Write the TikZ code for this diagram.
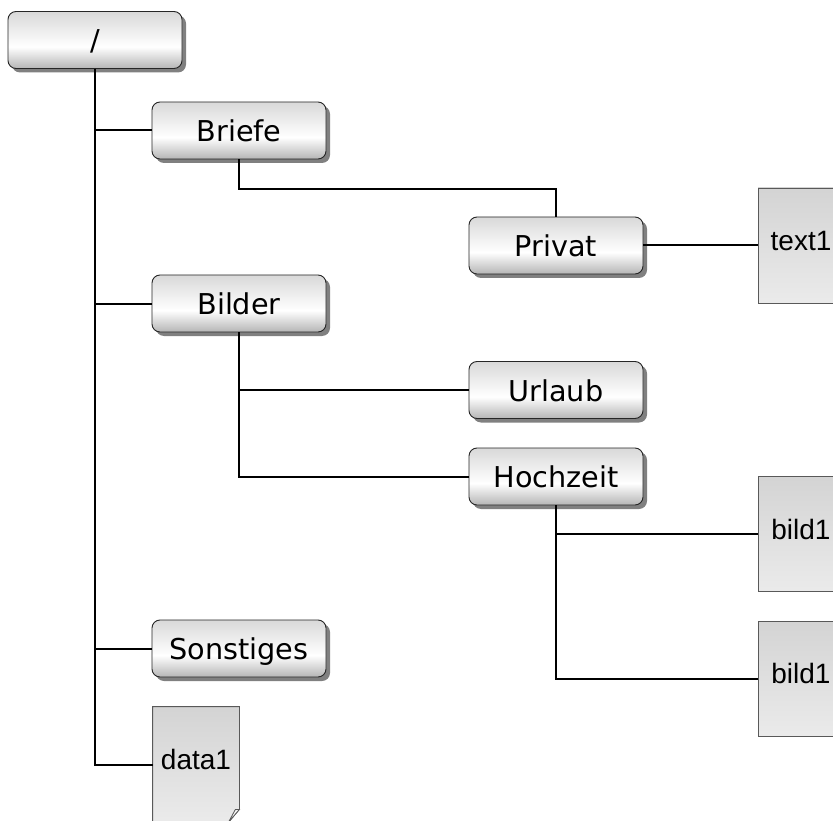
\documentclass[tikz,border=0pt]{standalone}
\usepackage{fontspec}
\setmainfont{DejaVu Sans}
\newfontfamily\filefont{Liberation Sans}
\usetikzlibrary{shadows}

% folder fill: grey top, white band below the middle, darker grey bottom
\pgfdeclareverticalshading{folderfill}{100bp}{color(0bp)=(gray!58); color(25bp)=(gray!58); color(44bp)=(white); color(75bp)=(gray!30); color(100bp)=(gray!30)}
% file fill: light grey, a little darker at the top
\pgfdeclareverticalshading{filefill}{100bp}{color(0bp)=(gray!16); color(25bp)=(gray!16); color(75bp)=(gray!34); color(100bp)=(gray!34)}

\begin{document}
\begin{tikzpicture}[x=1pt,y=-1pt,
  folder/.style={draw=black!85, line width=0.9pt, rounded corners=8pt,
    shade, shading=folderfill, minimum width=174pt, minimum height=57pt,
    inner sep=0pt, text height=22pt, text depth=0pt,
    font=\fontsize{28.7}{34}\selectfont,
    drop shadow={shadow xshift=4pt, shadow yshift=-4pt, fill=black!50, opacity=1}},
  file/.style={draw=black!65, line width=0.8pt, shade, shading=filefill,
    minimum width=86pt, minimum height=115pt, inner sep=0pt,
    text height=10pt, text depth=0pt,
    font=\filefont\fontsize{28}{33}\selectfont},
  link/.style={line width=2pt, black}]

\useasboundingbox (0,0) rectangle (833,821);
\clip (0,0) rectangle (833,821);

% directories
\node[folder] (root)      at (95,40)     {/};
\node[folder] (briefe)    at (239,130.5) {Briefe};
\node[folder] (privat)    at (556,245.5) {Privat};
\node[folder] (bilder)    at (239,303.5) {Bilder};
\node[folder] (urlaub)    at (556,390)   {Urlaub};
\node[folder] (hochzeit)  at (556,476.5) {Hochzeit};
\node[folder] (sonstiges) at (239,648.5) {Sonstiges};

% files
\node[file] (text1) at (801,245.5) {text1};
\node[file] (bildA) at (801,534)   {bild1};
\node[file] (bildB) at (801,678.5) {bild1};
\node[file, draw=none] (data1) at (196,764.5) {data1};

% data1 page with its folded corner
\fill[white] ([yshift=13pt]data1.south east) -- (data1.south east) -- ([xshift=-11pt]data1.south east) -- cycle;
\draw[draw=black!65, line width=0.8pt]
  (data1.south west) -- (data1.north west) -- (data1.north east)
  -- ([yshift=13pt]data1.south east) -- ([xshift=-11pt]data1.south east) -- cycle;
\draw[draw=black!65, line width=0.8pt, fill=gray!8]
  ([yshift=13pt]data1.south east) -- ([xshift=-4pt,yshift=13pt]data1.south east)
  -- ([xshift=-11pt]data1.south east) -- cycle;

% tree connectors
\draw[link] (root.south) |- (briefe.west);
\draw[link] (root.south) |- (bilder.west);
\draw[link] (root.south) |- (sonstiges.west);
\draw[link] (root.south) |- (data1.west);
\draw[link] (briefe.south) -- ++(0,30) -| (privat.north);
\draw[link] (privat.east) -- (text1.west);
\draw[link] (bilder.south) |- (urlaub.west);
\draw[link] (bilder.south) |- (hochzeit.west);
\draw[link] (hochzeit.south) |- (bildA.west);
\draw[link] (hochzeit.south) |- (bildB.west);
\end{tikzpicture}
\end{document}
